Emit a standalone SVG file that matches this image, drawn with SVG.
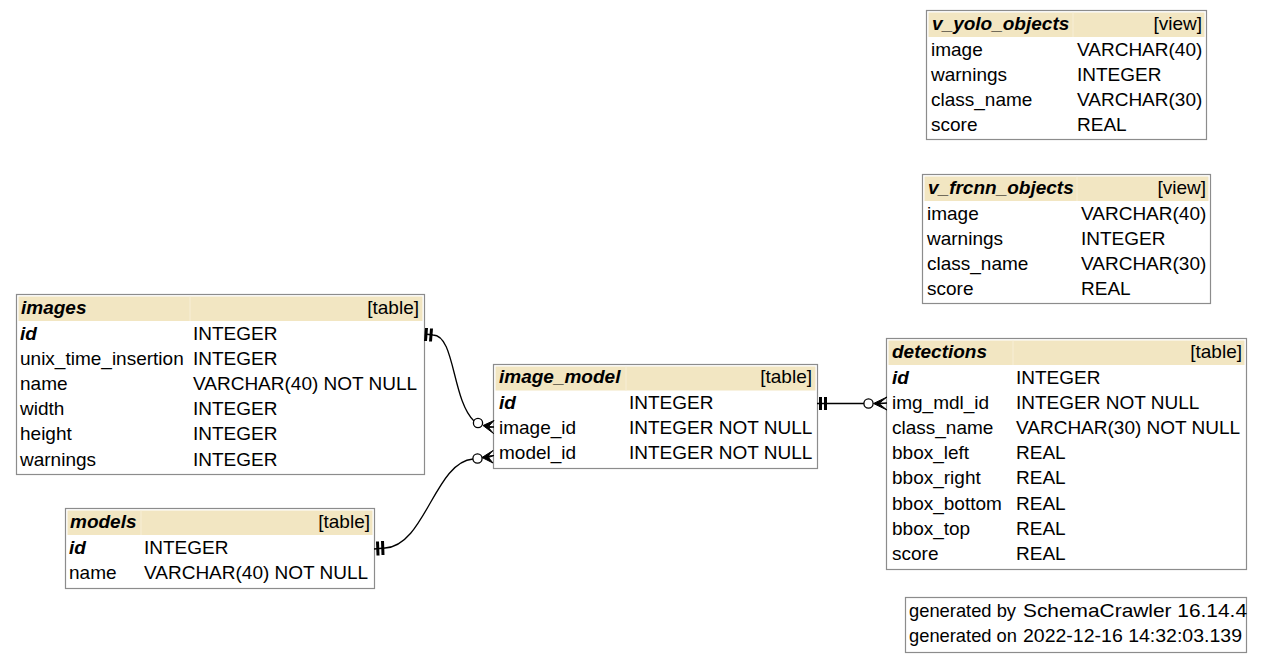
<svg xmlns="http://www.w3.org/2000/svg" width="1263" height="663" viewBox="0 0 1263 663">
<style>
text{font-family:"Liberation Sans",Arial,sans-serif;font-size:19px;fill:#000}
.b{fill:#fff;stroke:#8c8c8c;stroke-width:1.2}
.h{fill:#F2E6C2}
.sep{stroke:#f7eed6;stroke-width:1}
.t{font-weight:bold;font-style:italic}
.r{text-anchor:end}
.e{fill:none;stroke:#000;stroke-width:1.3}
.bar{stroke:#000;stroke-width:3}
.cf{fill:#000;stroke:#000;stroke-width:1}
.od{fill:#fff;stroke:#000;stroke-width:1.3}
</style>
<rect width="1263" height="663" fill="#fff"/>

<g id="v_yolo_objects">
<rect class="b" x="926.5" y="10.5" width="280" height="129"/>
<rect class="h" x="928.5" y="12.5" width="276" height="24.5"/>
<line class="sep" x1="1073" y1="12.5" x2="1073" y2="37"/>
<text class="t" x="932" y="30">v_yolo_objects</text>
<text class="r" x="1202" y="30">[view]</text>
<text x="931" y="55.6">image</text><text x="1077" y="55.6">VARCHAR(40)</text>
<text x="931" y="80.8">warnings</text><text x="1077" y="80.8">INTEGER</text>
<text x="931" y="106">class_name</text><text x="1077" y="106">VARCHAR(30)</text>
<text x="931" y="131.2">score</text><text x="1077" y="131.2">REAL</text>
</g>

<g id="v_frcnn_objects">
<rect class="b" x="922.5" y="174.5" width="288" height="129"/>
<rect class="h" x="924.5" y="176.5" width="284" height="24.5"/>
<line class="sep" x1="1077" y1="176.5" x2="1077" y2="201"/>
<text class="t" x="928" y="194">v_frcnn_objects</text>
<text class="r" x="1206" y="194">[view]</text>
<text x="927" y="219.6">image</text><text x="1081" y="219.6">VARCHAR(40)</text>
<text x="927" y="244.8">warnings</text><text x="1081" y="244.8">INTEGER</text>
<text x="927" y="270">class_name</text><text x="1081" y="270">VARCHAR(30)</text>
<text x="927" y="295.2">score</text><text x="1081" y="295.2">REAL</text>
</g>

<g id="images">
<rect class="b" x="16.5" y="294.5" width="408" height="180"/>
<rect class="h" x="18.5" y="296.5" width="404" height="24.5"/>
<line class="sep" x1="190" y1="296.5" x2="190" y2="321"/>
<text class="t" x="21" y="314">images</text>
<text class="r" x="419" y="314">[table]</text>
<text class="t" x="20" y="339.6">id</text><text x="193" y="339.6">INTEGER</text>
<text x="20" y="364.8">unix_time_insertion</text><text x="193" y="364.8">INTEGER</text>
<text x="20" y="390">name</text><text x="193" y="390">VARCHAR(40) NOT NULL</text>
<text x="20" y="415.2">width</text><text x="193" y="415.2">INTEGER</text>
<text x="20" y="440.4">height</text><text x="193" y="440.4">INTEGER</text>
<text x="20" y="465.6">warnings</text><text x="193" y="465.6">INTEGER</text>
</g>

<g id="image_model">
<rect class="b" x="493.5" y="364.5" width="324" height="104"/>
<rect class="h" x="495.5" y="366.5" width="320" height="24"/>
<line class="sep" x1="626" y1="366.5" x2="626" y2="390.5"/>
<text class="t" x="499" y="383">image_model</text>
<text class="r" x="812" y="383">[table]</text>
<text class="t" x="499" y="408.5">id</text><text x="629" y="408.5">INTEGER</text>
<text x="499" y="433.7">image_id</text><text x="629" y="433.7">INTEGER NOT NULL</text>
<text x="499" y="458.9">model_id</text><text x="629" y="458.9">INTEGER NOT NULL</text>
</g>

<g id="detections">
<rect class="b" x="886.5" y="338.5" width="360" height="231"/>
<rect class="h" x="888.5" y="340.5" width="356" height="24.5"/>
<line class="sep" x1="1013" y1="340.5" x2="1013" y2="365"/>
<text class="t" x="892" y="358">detections</text>
<text class="r" x="1242" y="358">[table]</text>
<text class="t" x="892" y="383.6">id</text><text x="1016" y="383.6">INTEGER</text>
<text x="892" y="408.8">img_mdl_id</text><text x="1016" y="408.8">INTEGER NOT NULL</text>
<text x="892" y="434">class_name</text><text x="1016" y="434">VARCHAR(30) NOT NULL</text>
<text x="892" y="459.2">bbox_left</text><text x="1016" y="459.2">REAL</text>
<text x="892" y="484.4">bbox_right</text><text x="1016" y="484.4">REAL</text>
<text x="892" y="509.6">bbox_bottom</text><text x="1016" y="509.6">REAL</text>
<text x="892" y="534.8">bbox_top</text><text x="1016" y="534.8">REAL</text>
<text x="892" y="560">score</text><text x="1016" y="560">REAL</text>
</g>

<g id="models">
<rect class="b" x="65.5" y="508.5" width="309" height="80"/>
<rect class="h" x="67.5" y="510.5" width="305" height="24.5"/>
<line class="sep" x1="141" y1="510.5" x2="141" y2="535"/>
<text class="t" x="70" y="528">models</text>
<text class="r" x="370" y="528">[table]</text>
<text class="t" x="69" y="553.6">id</text><text x="144" y="553.6">INTEGER</text>
<text x="69" y="578.8">name</text><text x="144" y="578.8">VARCHAR(40) NOT NULL</text>
</g>

<g id="footer">
<rect class="b" x="905.5" y="597.5" width="341" height="55"/>
<text x="909" y="617" textLength="107" lengthAdjust="spacingAndGlyphs">generated by</text>
<text x="1023" y="617" textLength="224" lengthAdjust="spacingAndGlyphs">SchemaCrawler 16.14.4</text>
<text x="909" y="642" textLength="108" lengthAdjust="spacingAndGlyphs">generated on</text>
<text x="1023" y="642" textLength="219" lengthAdjust="spacingAndGlyphs">2022-12-16 14:32:03.139</text>
</g>

<g id="connectors">
<path class="e" d="M425,334 L433,335 C455,335 452,400 474,421"/>
<line class="bar" x1="426.5" y1="328" x2="425.5" y2="341"/>
<line class="bar" x1="431.5" y1="328.5" x2="430.5" y2="341.5"/>
<circle class="od" cx="478" cy="423" r="4.6"/>
<polygon class="cf" points="483,425.5 494,420.5 488.5,426.5 494,427 488.5,427.5 493.5,433.5"/>

<path class="e" d="M374,549 L385,548 C425,546 435,462 473,459"/>
<line class="bar" x1="377.5" y1="541.5" x2="378" y2="555.5"/>
<line class="bar" x1="382.5" y1="541" x2="383" y2="555"/>
<circle class="od" cx="477.5" cy="458.5" r="4.6"/>
<polygon class="cf" points="482,457.5 493,450.5 488,456 494,455.5 488.5,457.5 493,463"/>

<path class="e" d="M817,403.5 L864,403.5"/>
<line class="bar" x1="820.5" y1="397" x2="820.5" y2="410"/>
<line class="bar" x1="825.5" y1="397" x2="825.5" y2="410"/>
<circle class="od" cx="868.5" cy="403.5" r="4.6"/>
<polygon class="cf" points="873.5,403.5 887,397 879.5,403 887,403 879.5,404 887,410"/>
</g>
</svg>
